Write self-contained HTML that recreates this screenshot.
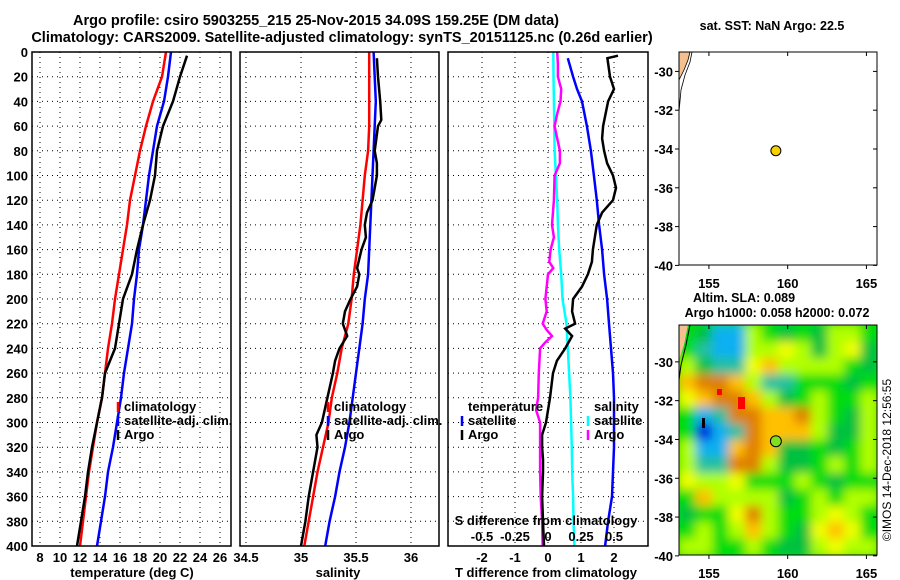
<!DOCTYPE html>
<html><head><meta charset="utf-8"><style>
html,body{margin:0;padding:0;background:#fff}
svg{display:block;font-family:"Liberation Sans",sans-serif;font-weight:bold}
</style></head><body>
<svg id="chart" width="900" height="580" viewBox="0 0 900 580" xmlns="http://www.w3.org/2000/svg">
<defs>
<clipPath id="clipMap2"><rect x="679" y="325" width="198" height="230"/></clipPath>
<filter id="blur" filterUnits="userSpaceOnUse" x="650" y="300" width="260" height="280"><feGaussianBlur stdDeviation="5"/></filter>
</defs>
<text x="316" y="25" text-anchor="middle" font-size="14.5">Argo profile: csiro 5903255_215 25-Nov-2015 34.09S 159.25E (DM data)</text>
<text x="342" y="42" text-anchor="middle" font-size="14.5">Climatology: CARS2009. Satellite-adjusted climatology: synTS_20151125.nc (0.26d earlier)</text>
<g id="g"></g>
<text transform="translate(891,460) rotate(-90)" text-anchor="middle" font-size="12" font-weight="normal">©IMOS 14-Dec-2018 12:56:55</text>
</svg>
<script>
// ---- data ----
const depthTicks = [0,20,40,60,80,100,120,140,160,180,200,220,240,260,280,300,320,340,360,380,400];
const tempTicks = [8,10,12,14,16,18,20,22,24,26];
const salTicks = [34.5,35,35.5,36];
const salTickLabels = ["34.5","35","35.5","36"];
const tdiffTicks = [-2,-1,0,1,2];
const sdiffTicks = [-0.5,-0.25,0,0.25,0.5];
const sdiffTickLabels = ["-0.5","-0.25","0","0.25","0.5"];

const stdDepth = [0,20,40,60,80,100,120,140,160,180,200,220,240,260,280,300,320,340,360,380,400];
const tempClim = [20.6,20.2,19.3,18.6,18.0,17.5,17.0,16.7,16.3,15.9,15.5,15.2,14.8,14.5,14.2,13.7,13.3,12.9,12.6,12.3,12.0];
const tempSat = [21.1,20.8,20.4,19.7,19.3,18.9,18.6,18.3,17.9,17.7,17.4,17.2,16.8,16.4,16.1,15.7,15.3,14.8,14.5,14.1,13.7];
const argoTDepth = [3,20,40,60,80,100,120,140,160,180,200,220,240,260,280,300,320,340,360,380,400];
const tempArgo = [22.7,22.0,21.3,20.3,19.7,19.5,19.0,18.3,17.7,17.2,16.3,15.9,15.5,14.5,14.2,13.7,13.2,12.8,12.5,12.1,11.7];

const salClim = [35.62,35.62,35.62,35.62,35.61,35.58,35.56,35.54,35.51,35.48,35.46,35.43,35.37,35.33,35.28,35.25,35.20,35.15,35.11,35.07,35.03];
const salSat = [35.66,35.67,35.68,35.67,35.66,35.65,35.64,35.63,35.62,35.61,35.58,35.56,35.53,35.50,35.47,35.44,35.40,35.35,35.31,35.26,35.22];
const argoSDepth = [5,20,40,55,60,80,90,100,120,130,140,150,160,175,180,190,200,210,220,230,240,250,260,280,300,310,320,340,360,380,400];
const salArgo = [35.69,35.70,35.72,35.73,35.70,35.67,35.69,35.69,35.65,35.60,35.58,35.59,35.55,35.51,35.53,35.51,35.45,35.40,35.38,35.42,35.35,35.31,35.29,35.24,35.19,35.14,35.15,35.11,35.07,35.04,35.00];

const tdiffSatDepth = [5,20,30,40,60,80,100,120,140,160,180,200,220,240,260,280,300,320,340,360,380,400];
const tdiffSat = [0.6,0.76,0.88,1.03,1.18,1.3,1.39,1.48,1.55,1.64,1.7,1.79,1.85,1.91,1.97,2.0,2.0,2.0,1.97,1.94,1.82,1.73];
const tdiffArgoDepth = [3,5,20,30,40,60,70,80,90,100,110,120,130,140,160,170,180,190,200,210,220,224,230,240,250,260,280,300,310,320,330,340,360,380,400];
const tdiffArgo = [2.12,1.8,1.88,2.0,1.82,1.67,1.64,1.7,1.79,1.97,2.06,1.97,1.64,1.48,1.36,1.33,1.21,1.03,0.76,0.73,0.82,0.52,0.73,0.52,0.27,0.15,0.06,-0.06,-0.18,-0.18,-0.15,-0.15,-0.18,-0.15,-0.12];
const sdiffSat = [0.04,0.042,0.045,0.048,0.05,0.06,0.07,0.075,0.085,0.1,0.11,0.14,0.15,0.16,0.17,0.175,0.18,0.183,0.19,0.193,0.2];
const sdiffArgoDepth = [0,10,20,30,40,50,60,70,80,90,100,120,140,150,160,170,175,180,190,200,210,220,225,230,235,240,260,280,290,300,320,340,360,380,400];
const sdiffArgo = [0.07,0.075,0.075,0.1,0.095,0.07,0.05,0.07,0.09,0.09,0.05,0.045,0.03,0.045,0.02,0.01,0.04,0.0,-0.01,-0.02,-0.01,-0.04,-0.01,0.03,-0.02,-0.06,-0.07,-0.075,-0.09,-0.06,-0.06,-0.06,-0.055,-0.045,-0.04];

const mapLatTicks = [-30,-32,-34,-36,-38,-40];
const mapLonTicks = [155,160,165];
const argoLon = 159.25, argoLat = -34.09;
// SLA level codes, 14 rows x 12 cols (north to south)
const slaGrid = [
[4,3,1,1,5,4,3,4,3,5,5,4],
[4,2,1,1,5,5,6,5,3,5,6,3],
[5,3,2,2,6,7,5,5,5,5,4,3],
[7,8,8,7,5,2,2,4,4,4,3,4],
[6,7,8,8,7,5,3,4,5,4,4,5],
[4,1,2,8,8,7,7,8,5,4,3,5],
[4,0,1,2,8,7,7,7,5,3,3,5],
[5,1,1,7,8,7,3,3,4,3,4,5],
[5,2,2,8,8,5,3,3,4,5,4,5],
[6,5,5,6,4,4,4,5,4,3,4,4],
[4,7,5,5,5,5,3,4,5,4,5,5],
[3,4,4,6,8,5,4,4,5,6,5,4],
[4,5,4,5,7,5,4,3,6,7,6,4],
[5,5,4,4,5,4,3,3,5,6,5,5]];
const slaColors = ["#0000e0","#10b0f0","#20c0a0","#00c040","#00dd10","#b0ff00","#f0ff00","#ffc000","#e08000","#ff0000"];

// ---- helpers ----
const NS="http://www.w3.org/2000/svg";
const G=document.getElementById('g');
function mk(tag,attrs,parent){const e=document.createElementNS(NS,tag);for(const k in attrs)e.setAttribute(k,attrs[k]);(parent||G).appendChild(e);return e;}
function txt(x,y,s,anchor,size,parent){const e=mk('text',{x:x,y:y,'text-anchor':anchor||'middle','font-size':size||13},parent);e.textContent=s;return e;}

const PT=52, PB=546;
const yD=d=>PT+(d/400)*(PB-PT);
const xT=t=>40+(t-8)*10;
const xS=s=>301+(s-35)*110;
const xTD=t=>548+t*33;
const xSD=s=>548+s*132;
const panels=[{x0:32,x1:231,name:'temperature-panel'},{x0:240,x1:439,name:'salinity-panel'},{x0:448,x1:648,name:'difference-panel'}];

function grid(p,xs){
  const g=mk('g',{});
  
  
  xs.forEach(x=>mk('line',{x1:x,x2:x,y1:PT,y2:PB,stroke:'#000','stroke-width':1,'stroke-dasharray':'1,4'},g));
  depthTicks.forEach(d=>{if(d>0&&d<400)mk('line',{x1:p.x0,x2:p.x1,y1:yD(d),y2:yD(d),stroke:'#000','stroke-width':1,'stroke-dasharray':'1,4'},g);});
}
function frame(p){
  const r=mk('rect',{x:p.x0,y:PT,width:p.x1-p.x0,height:PB-PT,fill:'none',stroke:'#000','stroke-width':1.5});
  
  
}
function line(xf,vals,depths,color,name,w){
  const pts=vals.map((v,i)=>xf(v).toFixed(1)+','+yD(depths[i]).toFixed(1)).join(' ');
  const e=mk('polyline',{points:pts,fill:'none',stroke:color,'stroke-width':w||2.5,'stroke-linejoin':'miter'});
  
  
}

grid(panels[0],tempTicks.map(xT));
grid(panels[1],salTicks.map(xS));
grid(panels[2],tdiffTicks.map(xTD));

const yl=mk('g',{});


depthTicks.forEach(d=>txt(28,yD(d)+5,String(d),'end',13,yl));

line(xT,tempClim,stdDepth,'#ff0000','temp-climatology-line');
line(xT,tempSat,stdDepth,'#0000ff','temp-satellite-line');
line(xT,tempArgo,argoTDepth,'#000','temp-argo-line');
const tl=mk('g',{});


tempTicks.forEach(t=>txt(xT(t),562,String(t),'middle',13,tl));
const tt=txt(132,577,'temperature (deg C)','middle',13);



line(xS,salClim,stdDepth,'#ff0000','sal-climatology-line');
line(xS,salSat,stdDepth,'#0000ff','sal-satellite-line');
line(xS,salArgo,argoSDepth,'#000','sal-argo-line');
const sl=mk('g',{});


salTicks.forEach((s,i)=>txt(xS(s),562,salTickLabels[i],'middle',13,sl));
const st=txt(338,577,'salinity','middle',13);



line(xSD,sdiffSat,stdDepth,'#00ffff','sdiff-satellite-line');
line(xSD,sdiffArgo,sdiffArgoDepth,'#ff00ff','sdiff-argo-line');
line(xTD,tdiffSat,tdiffSatDepth,'#0000ff','tdiff-satellite-line');
line(xTD,tdiffArgo,tdiffArgoDepth,'#000','tdiff-argo-line');
const dl=mk('g',{});


tdiffTicks.forEach(t=>txt(xTD(t),562,String(t),'middle',13,dl));
const dt=txt(546,577,'T difference from climatology','middle',13);


const sdl=mk('g',{});


sdiffTicks.forEach((s,i)=>txt(xSD(s),541,sdiffTickLabels[i],'middle',13,sdl));
const sdt=txt(546,525,'S difference from climatology','middle',13);



panels.forEach(frame);

function legend(x,y,color,label,name){
  const g=mk('g',{});
  
  
  mk('line',{x1:x,x2:x,y1:y-9,y2:y+1,stroke:color,'stroke-width':2.5},g);
  txt(x+6,y,label,'start',13,g);
}
legend(118,411,'#ff0000','climatology','legend-temp-climatology');
legend(118,425,'#0000ff','satellite-adj. clim.','legend-temp-satellite');
legend(118,439,'#000','Argo','legend-temp-argo');
legend(328,411,'#ff0000','climatology','legend-sal-climatology');
legend(328,425,'#0000ff','satellite-adj. clim.','legend-sal-satellite');
legend(328,439,'#000','Argo','legend-sal-argo');
const lt=txt(468,411,'temperature','start',13);


legend(462,425,'#0000ff','satellite','legend-tdiff-satellite');
legend(462,439,'#000','Argo','legend-tdiff-argo');
const ls=txt(594,411,'salinity','start',13);


legend(588,425,'#00ffff','satellite','legend-sdiff-satellite');
legend(588,439,'#ff00ff','Argo','legend-sdiff-argo');

// ---- maps ----
const MX0=679,MX1=877;
const lonX=l=>MX0+(l-153.1)*15.75;
function mapAxes(y0,y1,latTop,name){
  const latY=la=>y0+(latTop-la)*19.4;
  const g=mk('g',{});
  
  
  mapLatTicks.forEach(la=>{const y=latY(la);txt(MX0-6,y+5,String(la),'end',13,g);
    mk('line',{x1:MX0-4,x2:MX0,y1:y,y2:y,stroke:'#000'},g);mk('line',{x1:MX1,x2:MX1-4,y1:y,y2:y,stroke:'#000'},g);});
  mapLonTicks.forEach(lo=>{const x=lonX(lo);mk('line',{x1:x,x2:x,y1:y1,y2:y1+4,stroke:'#000'},g);mk('line',{x1:x,x2:x,y1:y0,y2:y0+4,stroke:'#000'},g);
    txt(x,y1+23,String(lo),'middle',13,g);});
  return latY;
}
const m1=mk('g',{});


mk('rect',{x:MX0,y:52,width:198,height:213,fill:'#fff'},m1);
mk('path',{d:'M679,52 L690,52 L688,60 L684,70 L679,80 Z',fill:'#f5c090',stroke:'#000','stroke-width':0.8},m1);
mk('path',{d:'M692,52 L690,62 L685,75 L681,90 L679,112',fill:'none',stroke:'#000','stroke-width':0.8},m1);
const lat1=mapAxes(52,265,-29.0,'sst-map');
mk('rect',{x:MX0,y:52,width:198,height:213,fill:'none',stroke:'#000','stroke-width':1},m1);
const dot1=mk('circle',{cx:lonX(argoLon),cy:lat1(argoLat),r:5,fill:'#f8d000',stroke:'#000','stroke-width':1});


const t1=txt(772,30,'sat. SST: NaN Argo: 22.5','middle',12.5);



const m2=mk('g',{'clip-path':'url(#clipMap2)'});


const rows=slaGrid.length, cols=slaGrid[0].length;
const cw=198/cols, ch=230/rows;
const blurG=mk('g',{filter:'url(#blur)'},m2);
mk('rect',{x:MX0-20,y:305,width:240,height:270,fill:'#00dd10'},blurG);
slaGrid.forEach((row,r)=>row.forEach((v,c)=>{
  const cell=mk('rect',{x:MX0+c*cw,y:325+r*ch,width:cw+0.5,height:ch+0.5,fill:slaColors[v]},blurG);
  
  
}));
mk('rect',{x:717,y:389,width:5,height:6,fill:'#ff0000'},m2);
mk('rect',{x:738,y:397,width:7,height:12,fill:'#ff0000'},m2);
mk('rect',{x:702,y:418,width:3,height:10,fill:'#000'},m2);
mk('path',{d:'M679,325 L688,325 L684,345 L679,360 Z',fill:'#f5c090'},m2);
mk('path',{d:'M690,325 L686,345 L681,365 L679,380',fill:'none',stroke:'#000','stroke-width':1},m2);
const lat2=mapAxes(325,555,-28.1,'sla-map');
mk('rect',{x:MX0,y:325,width:198,height:230,fill:'none',stroke:'#000','stroke-width':1});
const dot2=mk('circle',{cx:lonX(argoLon),cy:lat2(argoLat),r:5.5,fill:'#80e020',stroke:'#000','stroke-width':1});


const t2=txt(744,302,'Altim. SLA: 0.089','middle',12.5);


const t3=txt(777,317,'Argo h1000: 0.058 h2000: 0.072','middle',12.5);


</script>
</body></html>
